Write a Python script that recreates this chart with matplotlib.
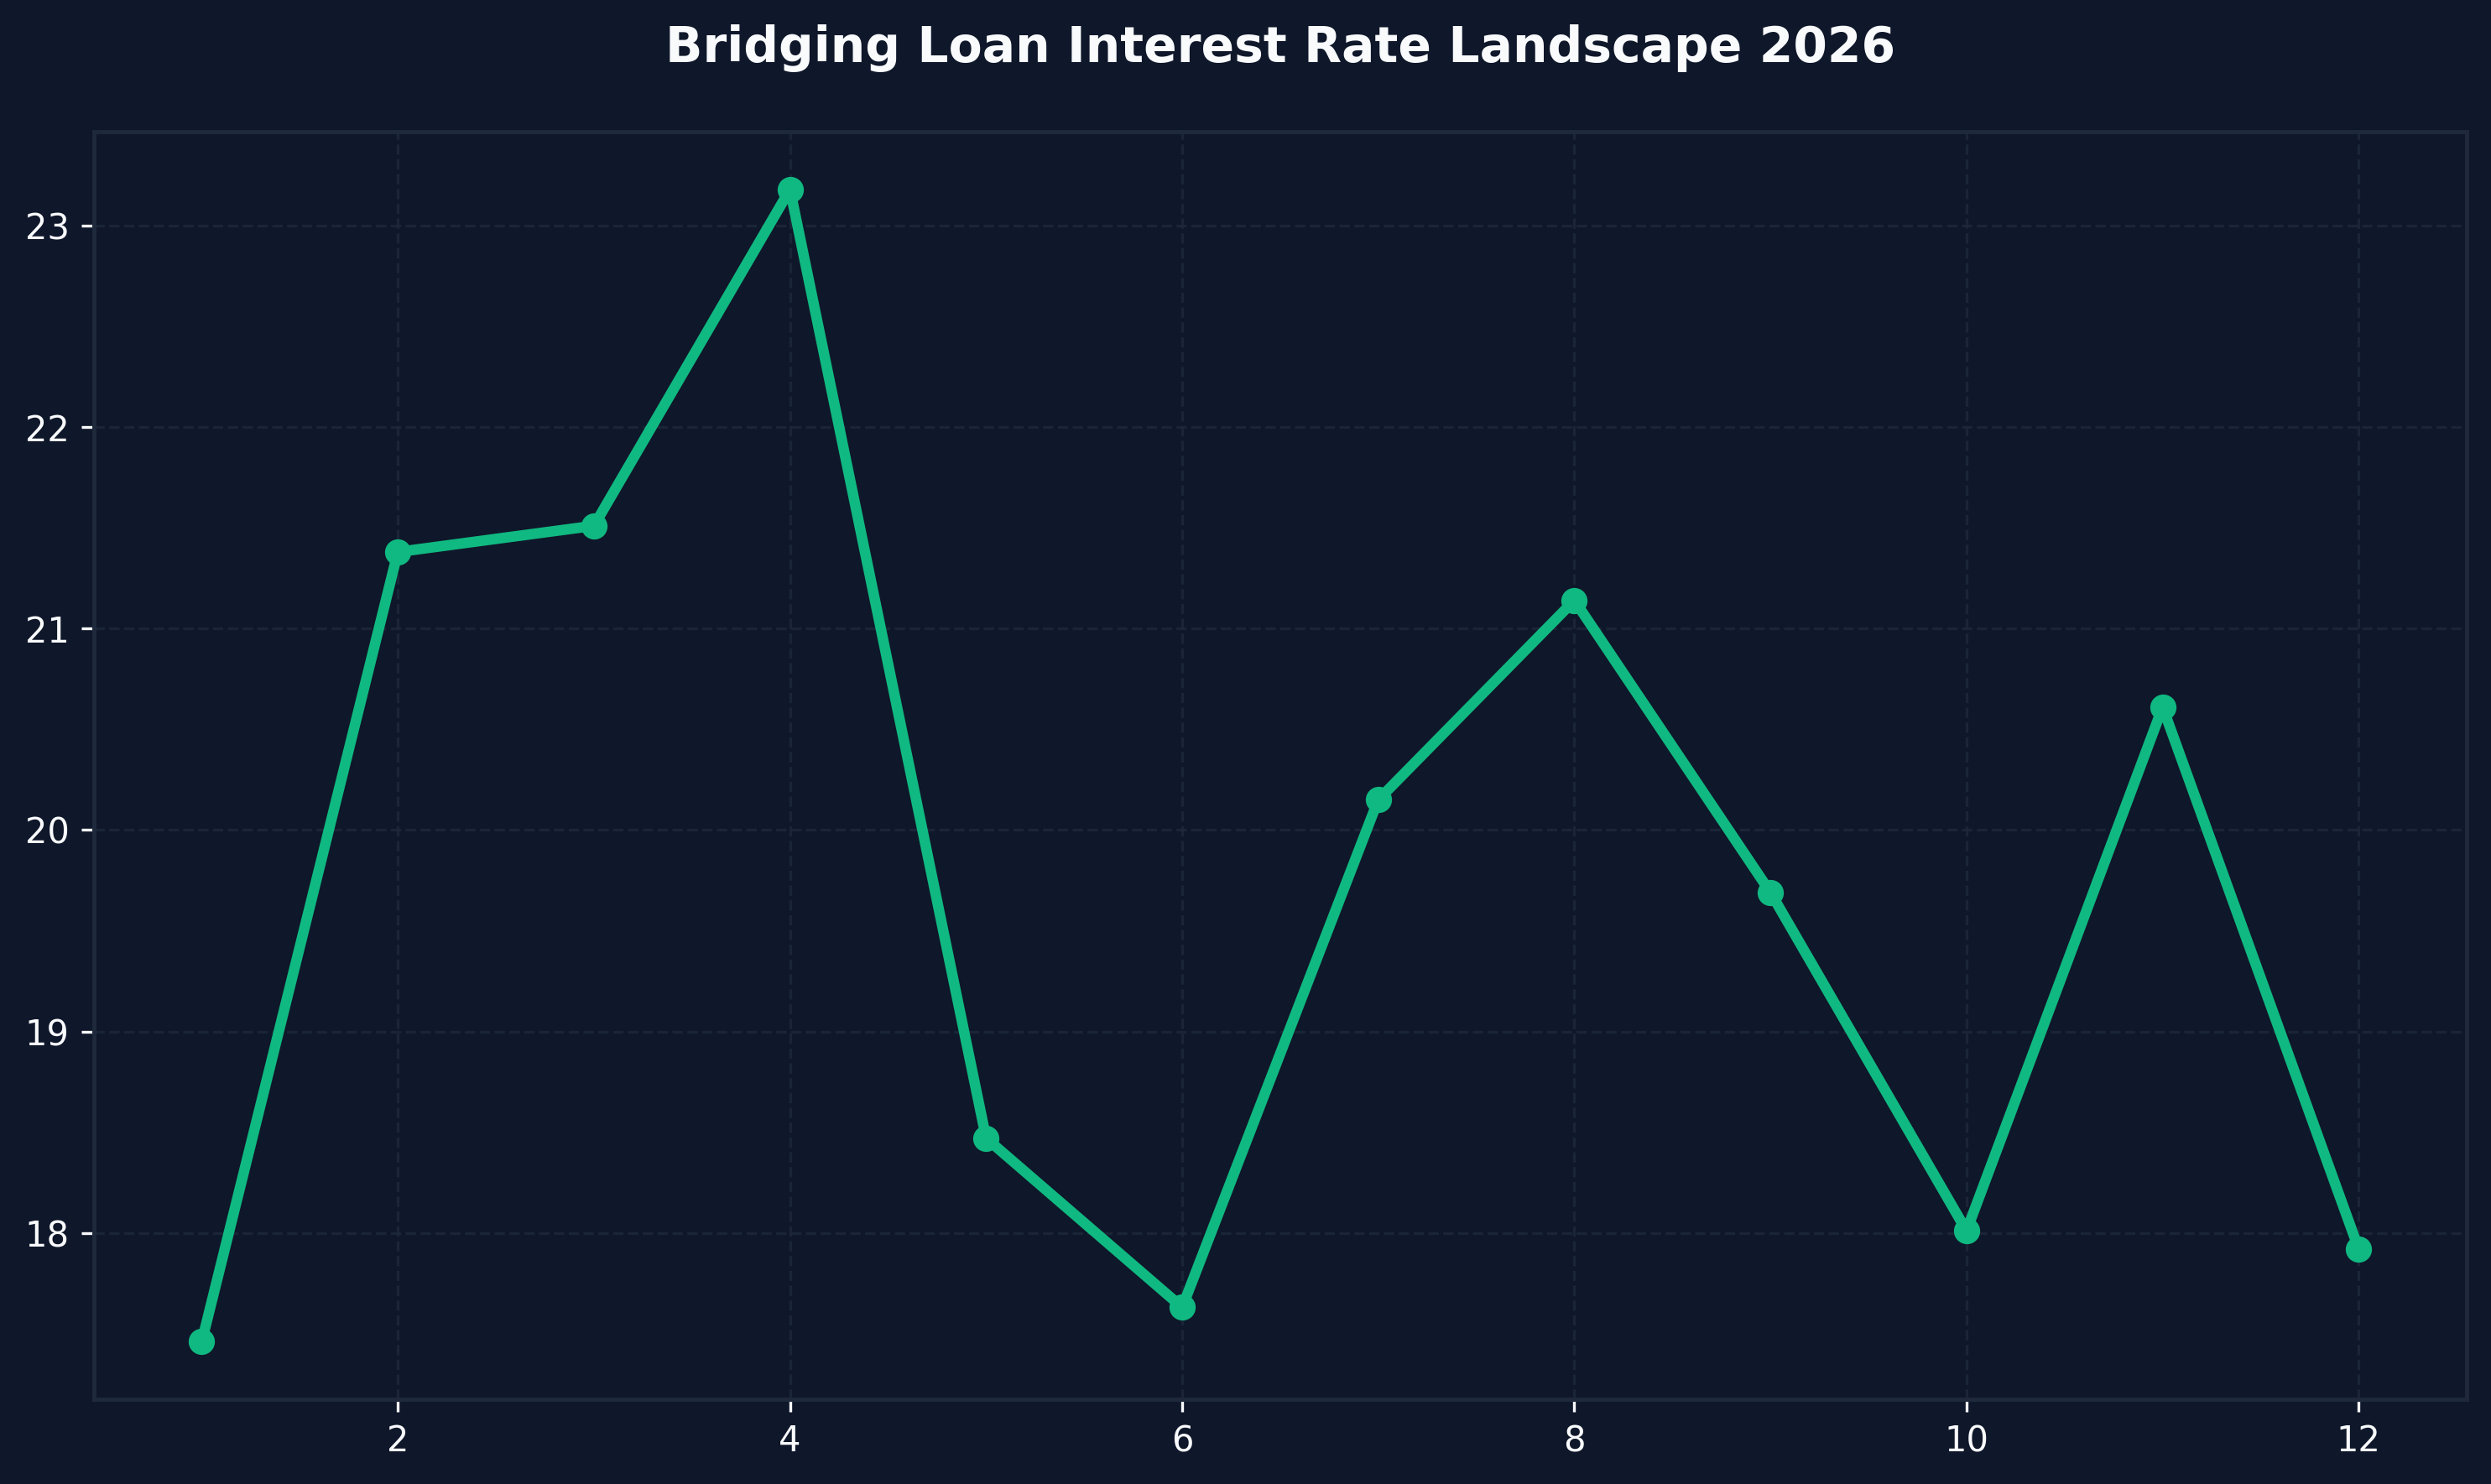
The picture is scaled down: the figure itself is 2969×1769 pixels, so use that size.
import matplotlib
matplotlib.use("Agg")
import matplotlib.pyplot as plt

# datos
meses = [1, 2, 3, 4, 5, 6, 7, 8, 9, 10, 11, 12]
tasas = [17.46, 21.38, 21.51, 23.18, 18.47, 17.63, 20.15, 21.14, 19.69, 18.01, 20.61, 17.92]
titulo = "Bridging Loan Interest Rate Landscape 2026"

fondo = "#0f172a"
linea = "#10b981"
borde = "#1e293b"
texto = "#f8fafc"

fig, ax = plt.subplots(figsize=(2969 / 300, 1769 / 300), dpi=300)
fig.patch.set_facecolor(fondo)
ax.set_facecolor(fondo)

ax.plot(meses, tasas, color=linea, linewidth=3, marker="o", markersize=6.5)

ax.set_title(titulo, color=texto, fontsize=14, fontweight="bold", pad=20)
ax.grid(True, linestyle="--", color=borde, linewidth=0.8, alpha=0.8)
for s in ax.spines.values():
    s.set_color(borde)
    s.set_linewidth(1.2)
ax.tick_params(colors=texto, labelsize=10)

fig.subplots_adjust(left=0.0377, right=0.9902, top=0.9112, bottom=0.0571)
fig.savefig("out.png", dpi=300, facecolor=fondo)
